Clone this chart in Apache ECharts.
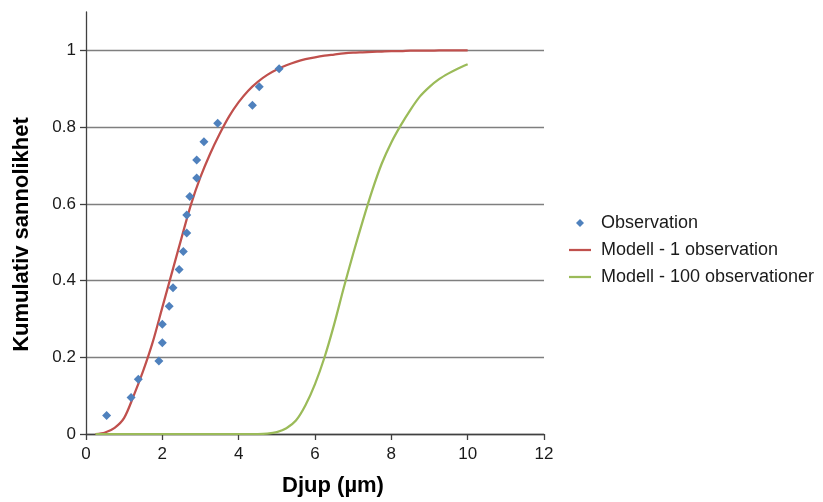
<!DOCTYPE html>
<html lang="sv">
<head>
    <meta charset="UTF-8">
    <title>Kumulativ sannolikhet</title>
    <script src="https://cdn.jsdelivr.net/npm/echarts@6/dist/echarts.min.js"></script>
    <style>
        html, body { margin: 0; padding: 0; background: #fff; }
    </style>
</head>
<body>
    <div id="main" style="width: 823px; height: 502px;"></div>
    <script>
        // observations (depth in µm, cumulative probability)
        var obsDepth = [0.54, 1.18, 1.37, 1.91, 2.0, 2.0, 2.18, 2.28, 2.44, 2.55,
                        2.64, 2.64, 2.72, 2.90, 2.90, 3.09, 3.45, 4.36, 4.54, 5.06];
        var obsProb = [0.048, 0.095, 0.143, 0.190, 0.238, 0.286, 0.333, 0.381, 0.429, 0.476,
                       0.524, 0.571, 0.619, 0.667, 0.714, 0.762, 0.810, 0.857, 0.905, 0.952];

        // model curves
        var modelDepth = [0.25, 0.5, 0.75, 1, 1.25, 1.5, 1.75, 2, 2.25, 2.5,
                          2.75, 3, 3.25, 3.5, 3.75, 4, 4.25, 4.5, 4.75, 5,
                          5.25, 5.5, 5.75, 6, 6.25, 6.5, 6.75, 7, 7.25, 7.5,
                          7.75, 8, 8.25, 8.5, 8.75, 9, 9.25, 9.5, 9.75, 10];
        var model1 = [0.000, 0.004, 0.016, 0.042, 0.100, 0.165, 0.240, 0.330, 0.420, 0.510,
                      0.598, 0.670, 0.730, 0.782, 0.828, 0.865, 0.895, 0.918, 0.936, 0.950,
                      0.961, 0.970, 0.977, 0.982, 0.986, 0.989, 0.992, 0.994, 0.995, 0.996,
                      0.997, 0.998, 0.998, 0.999, 0.999, 0.999, 1.000, 1.000, 1.000, 1.000];
        var model100 = [0, 0, 0, 0, 0, 0, 0, 0, 0, 0,
                        0, 0, 0, 0, 0, 0, 0, 0, 0.001, 0.005,
                        0.015, 0.035, 0.075, 0.130, 0.200, 0.285, 0.380, 0.470, 0.555, 0.635,
                        0.705, 0.760, 0.805, 0.845, 0.880, 0.905, 0.925, 0.940, 0.953, 0.964];

        var yTicks = [0, 0.2, 0.4, 0.6, 0.8, 1];

        function pairs(xs, ys) {
            return xs.map(function (x, i) { return [x, ys[i]]; });
        }

        var font = "'Liberation Sans', Arial, sans-serif";
        var lineIcon = 'path://M0,0 L22,0 L22,2.25 L0,2.25 Z';
        var diamondIcon = 'path://M4,0 L8,4 L4,8 L0,4 Z';
        var myChart = echarts.init(document.getElementById('main'));

        var option = {
            animation: false,
            textStyle: { fontFamily: font },
            grid: { left: 86, right: 279, top: 12, bottom: 67 },
            legend: {
                orient: 'vertical',
                left: 564,
                top: 209,
                itemWidth: 22,
                itemHeight: 8,
                itemGap: 9,
                symbolKeepAspect: true,
                textStyle: { fontSize: 18, color: '#1a1a1a', fontFamily: font, padding: [0, 0, 0, 5] },
                data: [
                    { name: 'Observation', icon: diamondIcon },
                    { name: 'Modell - 1 observation', icon: lineIcon },
                    { name: 'Modell - 100 observationer', icon: lineIcon }
                ]
            },
            xAxis: {
                type: 'value',
                min: 0,
                max: 12,
                interval: 2,
                name: 'Djup (µm)',
                nameLocation: 'middle',
                nameGap: 41,
                nameTextStyle: { fontSize: 22, fontWeight: 'bold', color: '#000', padding: [0, 0, 0, 36] },
                axisLine: { lineStyle: { color: '#404040', width: 1.3 } },
                axisTick: { show: true, length: 6, lineStyle: { color: '#404040', width: 1.3 } },
                axisLabel: { fontSize: 17, color: '#1a1a1a', margin: 12 },
                splitLine: { show: false }
            },
            yAxis: {
                type: 'value',
                min: 0,
                max: 1.1,
                interval: 0.2,
                name: 'Kumulativ sannolikhet',
                nameLocation: 'middle',
                nameGap: 53,
                nameRotate: 90,
                nameTextStyle: { fontSize: 22, fontWeight: 'bold', color: '#000', padding: [0, 23, 0, 0] },
                axisLine: { show: true, lineStyle: { color: '#404040', width: 1.3 } },
                axisTick: { show: true, length: 6, customValues: yTicks, lineStyle: { color: '#404040', width: 1.3 } },
                axisLabel: {
                    fontSize: 17, color: '#1a1a1a', margin: 10,
                    customValues: yTicks,
                    formatter: function (v) { return String(Math.round(v * 10) / 10); }
                },
                splitLine: { show: true, lineStyle: { color: '#7f7f7f', width: 1.3 } }
            },
            series: [
                {
                    name: 'Modell - 1 observation',
                    type: 'line',
                    data: pairs(modelDepth, model1),
                    symbol: 'none',
                    smooth: 0.3,
                    lineStyle: { color: '#C0504D', width: 2.25 },
                    itemStyle: { color: '#C0504D' },
                    z: 2
                },
                {
                    name: 'Modell - 100 observationer',
                    type: 'line',
                    data: pairs(modelDepth, model100),
                    symbol: 'none',
                    smooth: 0.3,
                    lineStyle: { color: '#9BBB59', width: 2.25 },
                    itemStyle: { color: '#9BBB59' },
                    z: 2
                },
                {
                    name: 'Observation',
                    type: 'scatter',
                    data: pairs(obsDepth, obsProb),
                    symbol: 'diamond',
                    symbolSize: 9,
                    itemStyle: { color: '#4F81BD', opacity: 1 },
                    z: 3
                }
            ]
        };

        myChart.setOption(option);
    </script>
</body>
</html>
